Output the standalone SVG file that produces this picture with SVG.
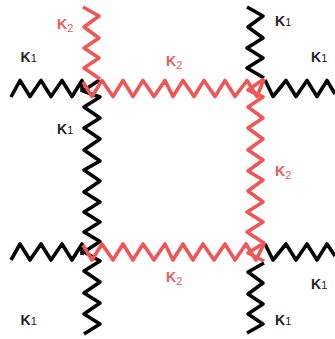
<svg xmlns="http://www.w3.org/2000/svg" width="335" height="339" viewBox="0 0 335 339">
<style>
.s{fill:none;stroke-width:3.6;stroke-linejoin:round;stroke-linecap:butt}
.b{stroke:#050505}
.r{stroke:#ef5656}
text{font-family:"Liberation Sans",Arial,sans-serif;font-size:14px;font-weight:700}
.tb{fill:#222}
.tr{fill:#ea5a5a}
.sub{font-size:11px;font-weight:400}
</style>
<rect width="335" height="339" fill="#fff"/>
<g id="connectors">
<path class="s b" d="M11 97L20 80.500L30 96.500L41 80.500L51 96.500L62 80.500L72 96.500L82 80.500L82 92"/>
<path class="s b" d="M99.500 80L83 91L100 97L84 107L100 118L84 128L100 139L84 150L100 161L84 170L100 181L84 192L100 202L84 212L100 222L84 232L100 241.500L84 252L100 261L84 271L100 282L84 293L100 303L84 314L100 324L84 334"/>
<path class="s b" d="M11 260L20 244L30 260L41 244L51 260L62 244L72 260L82 244L82 255"/>
<path class="s b" d="M247 7L263 16L248 27L263 38L247 48L263 58L247 68L264 78"/>
<path class="s b" d="M265 80L273 96.500L286 80.500L296 96.500L307 80.500L317 96.500L327 80.500L335 94"/>
<path class="s b" d="M265 244L273 260L286 244L296 260L307 244L317 260L327 244L335 256"/>
<path class="s b" d="M264 263L248 272L263 283L248 294L263 304L248 314L263 324L247 333"/>
<path class="s r" d="M83 7L99 16L84 27L99 38L84 48L99 58L84 68L100 79"/>
<path class="s r" d="M83 82L92 96.500L102 80.500L113 96.500L123 80.500L133 96.500L143 80.500L154 96.500L165 80.500L173 96.500L183 80.500L194 96.500L204 80.500L215 96.500L225 80.500L235 96.500L247 80.500L257 96.500L264 79"/>
<path class="s r" d="M83 245L92 260L102 244L113 260L123 244L133 260L143 244L154 260L165 244L173 260L183 244L193 260L203 244L214 260L225 244L235 260L246 244L256 260L264 244"/>
<path class="s r" d="M264 79L248 90L263 97L248 107L263 118L248 128L263 139L248 150L263 160L248 171L263 180L248 191L263 202L247 212L263 222L247 232L264 243L248 253L264 261"/>
</g>
<g id="label-k1-a"><text class="tb" x="20.500" y="62">K<tspan class="sub">1</tspan></text></g>
<g id="label-k2-a"><text class="tr" x="57" y="29">K<tspan class="sub" dy="3">2</tspan></text></g>
<g id="label-k1-b"><text class="tb" x="57" y="134">K<tspan class="sub">1</tspan></text></g>
<g id="label-k2-b"><text class="tr" x="166" y="66">K<tspan class="sub" dy="3">2</tspan></text></g>
<g id="label-k1-c"><text class="tb" x="275" y="25.500">K<tspan class="sub">1</tspan></text></g>
<g id="label-k1-d"><text class="tb" x="311" y="62">K<tspan class="sub">1</tspan></text></g>
<g id="label-k2-c"><text class="tr" x="275" y="176">K<tspan class="sub" dy="3">2</tspan></text></g>
<g id="label-k2-d"><text class="tr" x="166" y="282">K<tspan class="sub" dy="3">2</tspan></text></g>
<g id="label-k1-e"><text class="tb" x="311" y="289">K<tspan class="sub">1</tspan></text></g>
<g id="label-k1-f"><text class="tb" x="275" y="325">K<tspan class="sub">1</tspan></text></g>
<g id="label-k1-g"><text class="tb" x="20.500" y="325">K<tspan class="sub">1</tspan></text></g>
</svg>
